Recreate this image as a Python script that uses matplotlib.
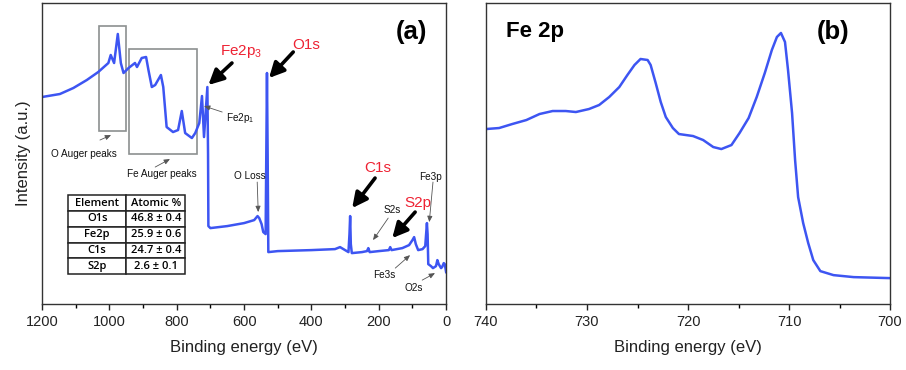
import matplotlib
matplotlib.use("Agg")
import matplotlib.pyplot as plt
from matplotlib.patches import Rectangle

plt.rcParams["font.family"] = ["Liberation Sans", "DejaVu Sans"]
plt.rcParams["mathtext.fontset"] = "custom"
plt.rcParams["mathtext.rm"] = "Liberation Sans"

LINE = "#3d55f2"

# (a) survey spectrum, binding energy (eV) vs intensity (a.u.)
survey_ev = [1200, 1147, 1107, 1067, 1033, 1003, 996, 986, 975, 966, 958,
             943, 924, 918, 904, 891, 884, 874, 864, 847, 840, 830, 811, 796,
             785, 775, 755, 745, 733, 725, 719, 709, 707, 706, 700, 650, 600,
             570, 560, 555, 548, 543, 536, 532, 530, 528, 500, 400, 330, 315,
             300, 290, 287, 285, 283, 280, 250, 235, 231, 227, 200, 170, 166,
             162, 130, 110, 100, 95, 90, 83, 70, 62, 57, 55, 53, 45, 39, 30,
             26, 22, 15, 12, 7, 4, 0]
survey_int = [207, 210, 216, 224, 232, 241, 249, 241, 270, 241, 231,
              236, 241, 237, 246, 247, 234, 217, 219, 229, 217, 177, 172, 174,
              193, 171, 166, 171, 181, 208, 167, 217, 150, 78, 76, 78, 81,
              84, 88, 86, 80, 72, 70, 231, 150, 52, 53, 54, 55, 57,
              54, 52, 70, 88, 60, 51, 52, 53, 56, 52, 53, 54, 57,
              54, 56, 59, 64, 67, 60, 54, 55, 58, 81, 70, 40, 38, 36, 38,
              44, 40, 36, 37, 41, 40, 32]

# (b) Fe 2p high resolution spectrum
fe_ev = [740, 738.7, 737.4, 736.0, 734.7, 733.4, 732.1, 731.1, 729.8, 728.8,
         727.8, 726.8, 726.0, 725.3, 724.7, 724.0, 723.7, 723.2, 722.7, 722.2,
         721.5, 720.9, 720.2, 719.5, 718.5, 717.5, 716.7, 715.7, 714.9, 714.0,
         713.2, 712.4, 711.7, 711.2, 710.8, 710.4, 710.1, 709.7, 709.4, 709.1,
         708.6, 708.1, 707.6, 706.9, 705.6, 703.6, 700]
fe_int = [175, 176, 180, 184, 190, 193, 193, 192, 195, 199,
          207, 217, 229, 239, 245, 244, 239, 221, 202, 187,
          176, 170, 169, 168, 164, 157, 155, 159, 171, 186,
          207, 231, 254, 267, 271, 262, 234, 191, 144, 107,
          81, 61, 44, 33, 29, 27, 26]

table_cols = ["Element", "Atomic %"]
table_rows = [["O1s", "46.8 \u00b1 0.4"],
              ["Fe2p", "25.9 \u00b1 0.6"],
              ["C1s", "24.7 \u00b1 0.4"],
              ["S2p", "2.6 \u00b1 0.1"]]

fig = plt.figure(figsize=(9.06, 3.70), dpi=100)
ax1 = fig.add_axes([0.0464, 0.178, 0.446, 0.814])
ax2 = fig.add_axes([0.5364, 0.178, 0.446, 0.814])

for ax in (ax1, ax2):
    ax.set_ylim(0, 301)
    ax.set_yticks([])
    ax.tick_params(axis="x", direction="out", length=4, width=1,
                   labelsize=10.5, colors="#222222")
    ax.tick_params(axis="x", which="minor", direction="out", length=3, width=1)
    for s in ax.spines.values():
        s.set_color("#333333")
        s.set_linewidth(1.0)
    ax.set_xlabel("Binding energy (eV)", fontsize=12, color="#222222", labelpad=8)

# ---- panel (a)
ax1.plot(survey_ev, survey_int, color=LINE, lw=1.8)
ax1.set_xlim(1200, 0)
ax1.set_xticks(range(0, 1201, 200))
ax1.set_xticks(range(100, 1200, 200), minor=True)
ax1.set_ylabel("Intensity (a.u.)", fontsize=12, color="#222222", labelpad=8)
ax1.text(0.915, 0.905, "(a)", transform=ax1.transAxes, fontsize=18.5,
         fontweight="bold", ha="center", va="center")

ax1.add_patch(Rectangle((950, 173), 81, 105, fill=False, ec="#8c9090", lw=1.2))
ax1.add_patch(Rectangle((740, 150), 202, 105, fill=False, ec="#8c9090", lw=1.2))

big = dict(arrowstyle="-|>,head_width=0.45,head_length=0.9", lw=2.6, color="black",
           shrinkA=0, shrinkB=0)
for lab, xy, txt_xy, arr_from in [
        (r"Fe2p$_{\mathregular{3}}$", (706, 219), (609, 252), (636, 241)),
        ("O1s", (526, 226), (416, 259), (454, 252)),
        ("C1s", (279, 96), (202, 136), (211, 126)),
        ("S2p", (160, 66), (83, 101), (92, 92))]:
    ax1.text(*txt_xy, lab, color="#ee2233", fontsize=11, ha="center", va="center")
    ax1.annotate("", xy=xy, xytext=arr_from, arrowprops=big)

small = dict(arrowstyle="-|>,head_width=0.15,head_length=0.35", lw=0.6,
             color="#555555", shrinkA=0, shrinkB=0)
for lab, txt_xy, a_from, a_to in [
        ("O Auger peaks", (1075, 150), (1028, 164), (995, 169)),
        ("Fe Auger peaks", (844, 130), (864, 137), (820, 145)),
        (r"Fe2p$_{\mathregular{1}}$", (612, 186), (665, 192), (719, 198)),
        ("O Loss", (582, 128), (561, 122), (558, 92)),
        ("S2s", (160, 94), (172, 86), (217, 64)),
        ("Fe3s", (184, 29), (151, 36), (107, 49)),
        ("O2s", (95, 16), (71, 24), (33, 31)),
        ("Fe3p", (45, 127), (39, 122), (50, 82))]:
    ax1.text(*txt_xy, lab, fontsize=7.2, ha="center", va="center", color="#111111")
    ax1.annotate("", xy=a_to, xytext=a_from, arrowprops=small)

tb = ax1.table(cellText=table_rows, colLabels=table_cols,
               bbox=[0.064, 0.0997, 0.29, 0.262], cellLoc="center")
tb.auto_set_font_size(False)
for (r, c), cell in tb.get_celld().items():
    cell.set_linewidth(1.1)
    cell.set_edgecolor("#222222")
    t = cell.get_text()
    t.set_fontsize(8)
    t.set_fontfamily(["Open Sans", "DejaVu Sans"])
    t.set_fontweight("semibold")

# ---- panel (b)
ax2.plot(fe_ev, fe_int, color=LINE, lw=1.8)
ax2.set_xlim(740, 700)
ax2.set_xticks(range(700, 741, 10))
ax2.set_xticks(range(705, 740, 10), minor=True)
ax2.text(0.05, 0.905, "Fe 2p", transform=ax2.transAxes, fontsize=16,
         fontweight="bold", ha="left", va="center")
ax2.text(0.86, 0.905, "(b)", transform=ax2.transAxes, fontsize=18.5,
         fontweight="bold", ha="center", va="center")

fig.savefig("out.png", dpi=100)
